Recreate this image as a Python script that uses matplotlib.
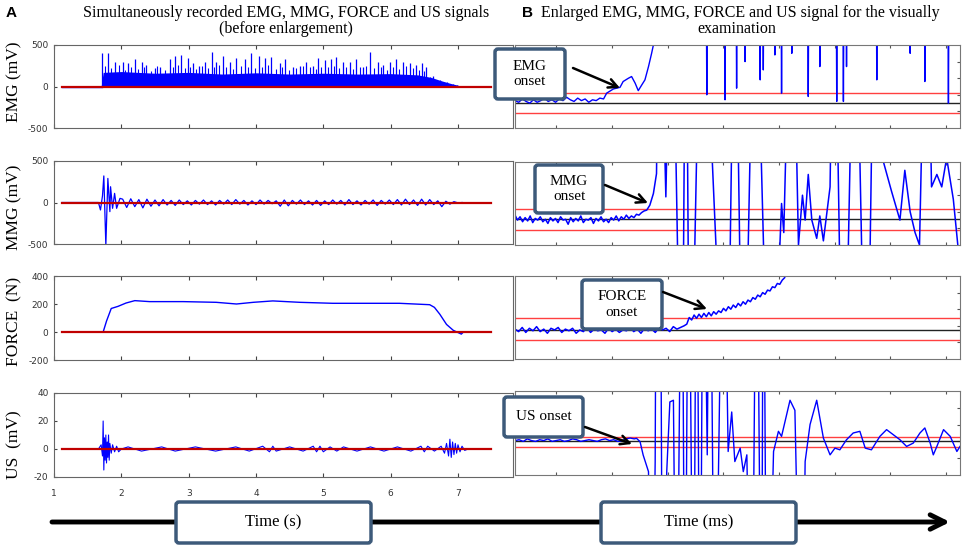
import numpy as np
import matplotlib
matplotlib.use('Agg')
import matplotlib.pyplot as plt
from matplotlib.patches import FancyBboxPatch

plt.rcParams['axes.unicode_minus'] = False

W, H = 964, 546
SERIF = 'Liberation Serif'
SANS = 'Liberation Sans'
BOX_EDGE = '#3d5a7a'

# ---------------- panel A data (seconds) ----------------
emg_spike_t = [1.72, 1.80, 1.90, 2.02, 2.10, 2.20, 2.30, 2.37, 2.50, 2.57, 2.73, 2.79, 2.89, 2.99,
               3.06, 3.16, 3.24, 3.34, 3.40, 3.51, 3.61, 3.71, 3.83, 3.93, 4.04, 4.13, 4.23, 4.35,
               4.43, 4.55, 4.65, 4.74, 4.85, 4.92, 5.02, 5.12, 5.19, 5.29, 5.39, 5.49, 5.59, 5.69,
               5.81, 5.89, 5.99, 6.08, 6.18, 6.28, 6.38, 6.46, 6.53, 6.63, 6.73, 6.83, 6.93, 6.99]
emg_spike_h = [400, 408, 300, 290, 280, 330, 300, 260, 220, 240, 330, 370, 380, 340,
               280, 250, 290, 410, 300, 370, 300, 340, 330, 400, 370, 340, 360, 280,
               330, 240, 250, 300, 250, 340, 320, 330, 360, 300, 300, 330, 240, 410,
               300, 260, 290, 330, 300, 280, 260, 280, 240, 130, 80, 50, 30, 20]
emg_mid_h = [250, 220, 260, 200, 240, 210, 230, 190, 250, 200, 240, 260, 220, 230, 210, 250,
             220, 240, 260, 230, 210, 250, 240, 220, 230, 260, 210, 240, 200, 220, 250, 230,
             210, 240, 230, 250, 220, 240, 210, 230, 250, 220, 240, 200, 230, 210, 250, 220,
             200, 190, 120, 80, 50, 30, 15]
emg_band_t = [1.70, 1.73, 2.0, 2.5, 3.0, 3.5, 4.0, 4.5, 5.0, 5.5, 6.0, 6.4, 6.6, 6.75, 6.9, 7.0, 7.05]
emg_band_v = [0, 170, 180, 160, 170, 150, 165, 150, 160, 150, 155, 140, 110, 70, 35, 15, 0]

mmg_burst_t = [1.12, 1.66, 1.69, 1.72, 1.74, 1.77, 1.80, 1.83, 1.84, 1.87, 1.90, 1.93, 1.98]
mmg_burst_v = [0, 0, -90, 80, 320, -520, 290, -110, 190, -70, 110, -70, 50]
mmg_tail_v = [40, -60, 45, -50, 35, -65, 40, -45, 30, -40, 35, -30, 25, -35, 30, -25, 20, -30,
              25, -20, 30, -25, 20, -30, 25, -20, 30, -25, 35, -20, 25, -30, 20, -25, 30, -20,
              25, -15, 20, -45, 30, -40, 25, -20, 30, -25, 20, -30, 25, -35, 20, -25, 30, -20,
              25, -30, 35, -25, 20, -30, 25, -20, 30, -35, 25, -20, 30, -25, 35, -30, 40, -25,
              30, -35, 40, -30, 35, -25, 20, -50, 15, -20, 10, -5, 0]

force_t = [1.12, 1.73, 1.78, 1.85, 1.95, 2.07, 2.20, 2.42, 2.92, 3.41, 3.71, 3.96, 4.25, 4.65,
           5.14, 5.64, 6.13, 6.58, 6.65, 6.73, 6.83, 6.93, 7.05, 7.08]
force_v = [0, 0, 78, 168, 183, 207, 224, 217, 217, 212, 200, 212, 222, 212,
           205, 205, 205, 195, 176, 127, 54, 12, -15, 0]

us_t = [1.12, 1.66, 1.70, 1.72, 1.73, 1.74, 1.75, 1.76, 1.77, 1.78, 1.79, 1.80, 1.81, 1.82, 1.83,
        1.85, 1.87, 1.90, 1.93, 1.96, 2.0, 2.1, 2.3, 2.6, 2.8, 3.1, 3.4, 3.7, 3.9, 4.1, 4.2, 4.25,
        4.3, 4.5, 4.7, 4.85, 4.9, 4.95, 5.0, 5.1, 5.2, 5.3, 5.5, 5.7, 5.9, 6.1, 6.3, 6.45, 6.5,
        6.55, 6.65, 6.75, 6.8, 6.83, 6.86, 6.88, 6.9, 6.92, 6.94, 6.96, 6.98, 7.0, 7.03, 7.06,
        7.1, 7.15]
us_v = [0, 0, 3, -5, 20, -15, 8, -8, 10, -10, 5, -6, 10, -8, 4, -3, 3, -2, 2, -2, 0, 1.5, -1.5,
        1.5, -1.5, 1.5, -1.5, 1.5, -1.5, 2, -2, 2, -1.5, 1.5, -1.5, 2, -2, 2, -2, 1.5, -1.5, 1.5,
        -1.5, 1.5, -1.5, 1.5, -1.5, 2, -2, 2, -1.5, 2, -3, 4, -5, 7, -6, 5, -4, 4, -3, 3, -2, 2,
        -1, 0]

# ---------------- panel B data (arbitrary enlarged units, 0-100) ----------------
emg_r_base = [33, 31, 35, 32, 30, 34, 31, 33, 36, 32, 34, 31, 35, 33, 37, 34, 32, 36, 33, 35,
              31, 34, 33, 36, 35]
emg_r_rise_x = [20.6, 22.1, 23.6, 24.3, 25.5, 26.2, 27.0, 27.7, 28.5, 29.2, 30.0, 30.7, 31.1, 31.6]
emg_r_rise_y = [42, 47, 49, 56, 60, 62, 54, 45, 52, 58, 74, 90, 100, 400]
emg_r_dip_x = [43.1, 47.2, 49.8, 51.7, 55.1, 55.8, 58.4, 59.9, 62.2, 65.9, 68.5, 72.3, 73.8,
               74.5, 81.3, 88.8, 92.1, 97.4]
emg_r_dip_y = [40, 34, 48, 80, 58, 70, 88, 42, 90, 38, 74, 32, 32, 74, 58, 90, 56, 30]

mmg_r_base = [36, 30, 34, 28, 33, 29, 35, 27, 32, 30, 34, 28, 31, 26, 33, 29, 32, 27, 34, 30,
              31, 25, 33, 28, 32, 29, 35, 27, 31, 30, 33, 26, 32, 29, 34, 28, 31, 27, 33, 30,
              35, 29, 34, 31, 36, 32, 35, 33, 37, 36, 39, 41]
mmg_r_x = [29.6, 30.3, 31.1, 31.8, 32.4, 33.9, 35.2, 37.5, 38.4, 39.3, 41.9, 47.6, 49.4, 51.3,
           53.9, 57.3, 59.9, 60.4, 62.2, 63.7, 64.6, 65.2, 65.9, 66.7, 67.8, 68.5, 69.3, 70.8,
           71.7, 73.8, 76.4, 79.0, 80.9, 82.8, 84.6, 86.5, 87.6, 88.8, 89.9, 90.9, 92.5, 93.6,
           94.8, 95.9, 97.0, 98.5, 99.6]
mmg_r_y = [42, 48, 62, 86, 400, 58, 400, -300, 400, -300, 400, -300, 400, -300,
           400, -300, 50, 15, 400, 0, 60, 30, 85, 30, 8, 35, 5, 70,
           400, -300, 400, -300, 400, 100, 65, 30, 90, 40, 15, 0, 400, 70,
           85, 70, 105, 55, -5]

force_r_base = [36, 33, 38, 32, 37, 34, 39, 33, 36, 31, 37, 35, 38, 32, 36, 34, 37, 31, 35, 33,
                38, 32, 36, 34, 35, 31, 37, 33, 36, 32, 35, 34, 38, 33, 36, 31, 37, 34, 36, 32,
                38, 35, 37, 33, 39, 36, 38, 40]
force_r_rise = [42, 50, 47, 53, 49, 54, 50, 55, 51, 56, 52, 57, 54, 58, 56, 61, 58, 63, 60, 65,
                62, 67, 64, 69, 66, 71, 69, 74, 72, 77, 75, 80, 78, 83, 82, 87, 86, 91, 90, 95, 98]

us_r_base = [41, 42, 40, 43, 41, 40, 42, 41, 43, 40, 41, 42, 40, 41, 43, 42, 40, 41, 42, 41,
             40, 42, 43, 41, 42, 40, 41, 43, 44, 43]
us_r_x = [27.3, 28.1, 28.8, 30.0, 30.7, 31.5, 31.8, 32.6, 33.2, 34.1, 34.8, 35.6, 36.3, 37.5,
          38.2, 39.0, 40.1, 40.8, 41.6, 42.3, 43.2, 43.8, 44.9, 46.8, 47.9, 48.7, 49.4, 50.6,
          51.3, 52.1, 53.2, 54.3, 55.4, 55.8, 56.6, 58.1, 59.2, 59.9, 61.8, 62.9, 64.4, 65.2,
          66.3, 67.8, 69.3, 70.8, 71.9, 73.0, 74.5, 76.0, 77.5, 78.7, 80.1, 82.0, 83.5, 85.0,
          86.5, 88.0, 89.5, 91.0, 92.1, 93.3, 94.0, 94.8, 96.3, 97.8, 99.3, 100]
us_r_y = [43.7, 39.7, 23.8, 4, -300, 15.9, 400, 400, -300, 4, 87, 89, -300, 400,
          -300, 400, -300, 400, -300, 400, 24, 400, -300, 400, 28, 75, 16, 32,
          4, 24, -300, 400, -300, 400, -300, 28, 52, 46, 89, 77, -300, 16,
          60, 89, 44, 24, 32, 30, 42, 50, 52, 32, 30, 46, 54, 48,
          42, 34, 38, 50, 56, 38, 24, 34, 54, 46, 28, 34]

# threshold lines (upper red, black baseline, lower red) of each enlarged panel
thr_emg = [42, 30, 18]
thr_mmg = [43, 31, 18]
thr_force = [50, 35, 23]
thr_us = [45, 40, 33]


def px_axes(fig, x0, y0, x1, y1):
    return fig.add_axes([x0 / W, 1 - y1 / H, (x1 - x0) / W, (y1 - y0) / H])


fig = plt.figure(figsize=(W / 100, H / 100), dpi=100)
fig.patch.set_facecolor('white')

# ---------------- panel A ----------------
left_rows = [(45, 128), (161, 244), (276, 360), (393, 477)]
ylims = [(-500, 500), (-500, 500), (-200, 400), (-20, 40)]
yticks = [[-500, 0, 500], [-500, 0, 500], [-200, 0, 200, 400], [-20, 0, 20, 40]]
ylabels = ['EMG (mV)', 'MMG (mV)', 'FORCE  (N)', 'US  (mV)']
label_shift = [-5, 5, 3, 10]

axL = []
for i, (y0, y1) in enumerate(left_rows):
    ax = px_axes(fig, 54, y0, 513, y1)
    ax.set_xlim(1, 1 + 459 / 67.33)
    ax.set_ylim(*ylims[i])
    ax.set_yticks(yticks[i])
    ax.set_xticks(range(1, 8))
    ax.tick_params(axis='x', direction='in', top=True, length=3, color='#444444',
                   labelsize=6.5, labelcolor='#333333', pad=9)
    ax.tick_params(axis='y', direction='in', length=2.5, color='#444444', labelsize=6.5,
                   labelcolor='#333333', pad=4)
    for s in ax.spines.values():
        s.set_color('#666666')
        s.set_linewidth(0.8)
    if i < 3:
        ax.set_xticklabels([])
    fig.text(14 / W, 1 - ((y0 + y1) / 2 + label_shift[i]) / H, ylabels[i], rotation=90,
             ha='center', va='center', family=SERIF, fontsize=12.5)
    axL.append(ax)

# EMG (rectified bursts)
ax = axL[0]
ax.plot([1.12, 1.72], [0, 0], color='blue', lw=1)
ax.fill_between(emg_band_t, 0, emg_band_v, color='blue', lw=0)
ax.vlines(emg_spike_t, 0, emg_spike_h, color='blue', lw=0.9)
mid_t = (np.array(emg_spike_t[:-1]) + np.array(emg_spike_t[1:])) / 2
ax.vlines(mid_t, 0, emg_mid_h, color='blue', lw=0.8)

# MMG
ax = axL[1]
mmg_tail_t = 2.02 + 0.06 * np.arange(len(mmg_tail_v))
ax.plot(list(mmg_burst_t) + list(mmg_tail_t), list(mmg_burst_v) + list(mmg_tail_v),
        color='blue', lw=0.9)

# FORCE
axL[2].plot(force_t, force_v, color='blue', lw=1)

# US
axL[3].plot(us_t, us_v, color='blue', lw=0.8)

for ax in axL:
    ax.plot([1.12, 7.49], [0, 0], color='#c00000', lw=1.6, zorder=5)

# ---------------- panel B ----------------
right_rows = [(45, 128), (162, 245), (276, 359), (391, 475)]
axR = []
for i, (y0, y1) in enumerate(right_rows):
    ax = px_axes(fig, 515, y0, 960, y1)
    ax.set_facecolor('white')
    ax.set_xlim(0, 100)
    ax.set_ylim(0, 100)
    ax.set_xticks(np.arange(9.3, 100, 12.5))
    ax.set_yticks([20, 40, 60, 80])
    ax.tick_params(direction='in', top=True, right=True, left=False, length=2.5,
                   color='#555555', labelbottom=False, labelleft=False)
    for s in ax.spines.values():
        s.set_color('#777777')
        s.set_linewidth(0.8)
    axR.append(ax)


def draw_thresholds(ax, thr):
    ax.axhline(thr[0], color='#ff4040', lw=1)
    ax.axhline(thr[1], color='#222222', lw=1)
    ax.axhline(thr[2], color='#ff4040', lw=1)


# EMG enlarged
ax = axR[0]
draw_thresholds(ax, thr_emg)
bx = np.linspace(0, 19.9, len(emg_r_base))
ex, ey = list(bx) + emg_r_rise_x, emg_r_base + emg_r_rise_y
for dx, dy in zip(emg_r_dip_x, emg_r_dip_y):
    ex += [dx - 0.3, dx, dx + 0.3]
    ey += [400, dy, 400]
ax.plot(ex, ey, color='blue', lw=1)

# MMG enlarged
ax = axR[1]
draw_thresholds(ax, thr_mmg)
bx = np.linspace(0, 29, len(mmg_r_base))
ax.plot(list(bx) + mmg_r_x, mmg_r_base + mmg_r_y, color='blue', lw=1.1)

# FORCE enlarged
ax = axR[2]
draw_thresholds(ax, thr_force)
bx = np.linspace(0, 38, len(force_r_base))
rx = 38.6 + 0.55 * np.arange(len(force_r_rise))
ax.plot(list(bx) + list(rx), force_r_base + force_r_rise, color='blue', lw=1.1)

# US enlarged
ax = axR[3]
draw_thresholds(ax, thr_us)
bx = np.linspace(0, 26.8, len(us_r_base))
ax.plot(list(bx) + us_r_x, us_r_base + us_r_y, color='blue', lw=1)

# ---------------- overlay: titles, call-out boxes, arrows ----------------
ov = fig.add_axes([0, 0, 1, 1])
ov.set_xlim(0, W)
ov.set_ylim(H, 0)
ov.axis('off')

ov.text(6, 13, 'A', family=SANS, fontweight='bold', fontsize=11, va='center')
ov.text(286, 13, 'Simultaneously recorded EMG, MMG, FORCE and US signals',
        family=SERIF, fontsize=11.5, ha='center', va='center')
ov.text(286, 29, '(before enlargement)', family=SERIF, fontsize=11.5, ha='center', va='center')
ov.text(522, 13, 'B', family=SANS, fontweight='bold', fontsize=11, va='center')
ov.text(541, 13, 'Enlarged EMG, MMG, FORCE and US signal for the visually',
        family=SERIF, fontsize=11.5, ha='left', va='center')
ov.text(737, 29, 'examination', family=SERIF, fontsize=11.5, ha='center', va='center')


def callout(x0, y0, x1, y1, text, size=11):
    ov.add_patch(FancyBboxPatch((x0, y0), x1 - x0, y1 - y0,
                                boxstyle='round,pad=0,rounding_size=3',
                                fc='white', ec=BOX_EDGE, lw=2.5, zorder=10))
    ov.text((x0 + x1) / 2, (y0 + y1) / 2, text, family=SERIF, fontsize=size,
            ha='center', va='center', zorder=11, linespacing=1.25)


def arrow(x0, y0, x1, y1, lw=1.8, ms=16, z=12):
    ov.annotate('', xy=(x1, y1), xytext=(x0, y0),
                arrowprops=dict(arrowstyle='->', lw=lw, color='black',
                                mutation_scale=ms, shrinkA=0, shrinkB=0), zorder=z)


callout(495, 49, 565, 99, 'EMG\nonset')
arrow(573, 68, 620, 88)
callout(535, 165, 603, 213, 'MMG\nonset')
arrow(605, 185, 648, 203)
callout(582, 280, 662, 329, 'FORCE\nonset')
arrow(663, 292, 707, 309)
callout(504, 397, 583, 437, 'US onset')
arrow(585, 427, 632, 444)

# time axis arrow along the bottom
arrow(52, 522, 950, 522, lw=3.5, ms=26, z=5)
callout(176, 502, 371, 543, 'Time (s)', size=12)
callout(601, 502, 796, 543, 'Time (ms)', size=12)

fig.savefig('out.png', dpi=100, facecolor='white')
